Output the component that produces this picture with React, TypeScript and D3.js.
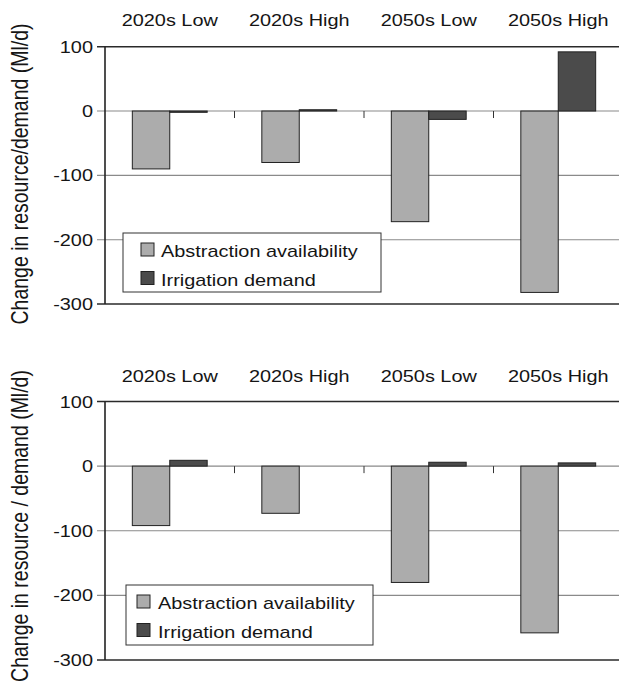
import React from 'react';
import * as d3 from 'd3';

const categories = ['2020s Low', '2020s High', '2050s Low', '2050s High'];
const seriesNames = ['Abstraction availability', 'Irrigation demand'];
const yTicks = [100, 0, -100, -200, -300];

// top panel values (Ml/d)
const topAbstraction = [-90, -80, -172, -282];
const topIrrigation = [-2, 2, -13, 92];

// bottom panel values (Ml/d)
const bottomAbstraction = [-92, -73, -180, -258];
const bottomIrrigation = [9, 0, 6, 5];

const colors = ['#acacac', '#4b4b4b'];
const FONT = '"Liberation Sans", Arial, Helvetica, sans-serif';
const SX = 1.17; // the figure is stretched horizontally

const panels = [
  {
    key: 'top',
    values: [topAbstraction, topIrrigation],
    title: 'Change in resource/demand (Ml/d)',
    top: 46.7,
    bottom: 304,
    labelY: 25.5,
    titleY: 174,
    legend: { x: 123, y: 233, w: 258, h: 59, sx: 141, tx: 161 },
  },
  {
    key: 'bottom',
    values: [bottomAbstraction, bottomIrrigation],
    title: 'Change in resource / demand (Ml/d)',
    top: 401.5,
    bottom: 660,
    labelY: 382,
    titleY: 526,
    legend: { x: 126, y: 585, w: 247, h: 60, sx: 137, tx: 158 },
  },
];

const left = 105;
const right = 623;

const T = ({ x, y, anchor = 'start', children }: any) => (
  <text
    transform={`translate(${x},${y}) scale(${SX},1)`}
    textAnchor={anchor}
    fontFamily={FONT}
    fontSize={17}
    fill="#151515"
  >
    {children}
  </text>
);

const Panel = ({ p }: any) => {
  const x = d3.scaleBand().domain(categories).range([left, right]).padding(0);
  const inner = d3
    .scaleBand()
    .domain(seriesNames)
    .range([0, x.bandwidth()])
    .paddingInner(0)
    .paddingOuter(0.73);
  const y = d3.scaleLinear().domain([-300, 100]).range([p.bottom, p.top]);
  const lg = p.legend;

  return (
    <g>
      {/* grid lines */}
      {yTicks.map((t) => (
        <line
          key={t}
          x1={left - 8}
          x2={right}
          y1={y(t)}
          y2={y(t)}
          stroke={t === 100 || t === -300 ? '#2a2a2a' : '#8a8a8a'}
          strokeWidth={t === 100 || t === -300 ? 1.6 : 1.1}
        />
      ))}
      {/* category ticks on zero line */}
      {categories.slice(1).map((c) => (
        <line key={c} x1={x(c)} x2={x(c)} y1={y(0)} y2={y(0) + 7} stroke="#333" strokeWidth={1} />
      ))}
      {/* y tick labels */}
      {yTicks.map((t) => (
        <T key={t} x={93} y={y(t) + 6} anchor="end">
          {String(t)}
        </T>
      ))}
      {/* category labels */}
      {categories.map((c) => (
        <T key={c} x={(x(c) as number) + x.bandwidth() / 2} y={p.labelY} anchor="middle">
          {c}
        </T>
      ))}
      {/* bars */}
      {seriesNames.map((s, si) =>
        categories.map((c, ci) => {
          const v = p.values[si][ci];
          if (v === 0) return null;
          const y0 = y(Math.max(0, v));
          const y1 = y(Math.min(0, v));
          return (
            <rect
              key={s + c}
              x={(x(c) as number) + (inner(s) as number)}
              y={y0}
              width={inner.bandwidth()}
              height={Math.max(1, y1 - y0)}
              fill={colors[si]}
              stroke="#222"
              strokeWidth={1}
            />
          );
        })
      )}
      {/* left axis */}
      <line x1={left} x2={left} y1={p.top} y2={p.bottom} stroke="#222" strokeWidth={1.6} />
      {/* y title */}
      <text
        transform={`translate(28,${p.titleY}) rotate(-90) scale(1,1.2)`}
        textAnchor="middle"
        fontFamily={FONT}
        fontSize={19.5}
        fill="#151515"
      >
        {p.title}
      </text>
      {/* legend */}
      <rect x={lg.x} y={lg.y} width={lg.w} height={lg.h} fill="#fff" stroke="#333" strokeWidth={1} />
      {seriesNames.map((s, i) => (
        <g key={s}>
          <rect
            x={lg.sx}
            y={lg.y + 10 + i * 28.5}
            width={13}
            height={13}
            fill={colors[i]}
            stroke="#222"
            strokeWidth={1}
          />
          <T x={lg.tx} y={lg.y + 23.5 + i * 29}>
            {s}
          </T>
        </g>
      ))}
    </g>
  );
};

export default function App() {
  return (
    <svg
      width={619}
      height={687}
      style={{ position: 'absolute', left: 0, top: 0, background: '#fff' }}
    >
      {panels.map((p) => (
        <Panel key={p.key} p={p} />
      ))}
    </svg>
  );
}
